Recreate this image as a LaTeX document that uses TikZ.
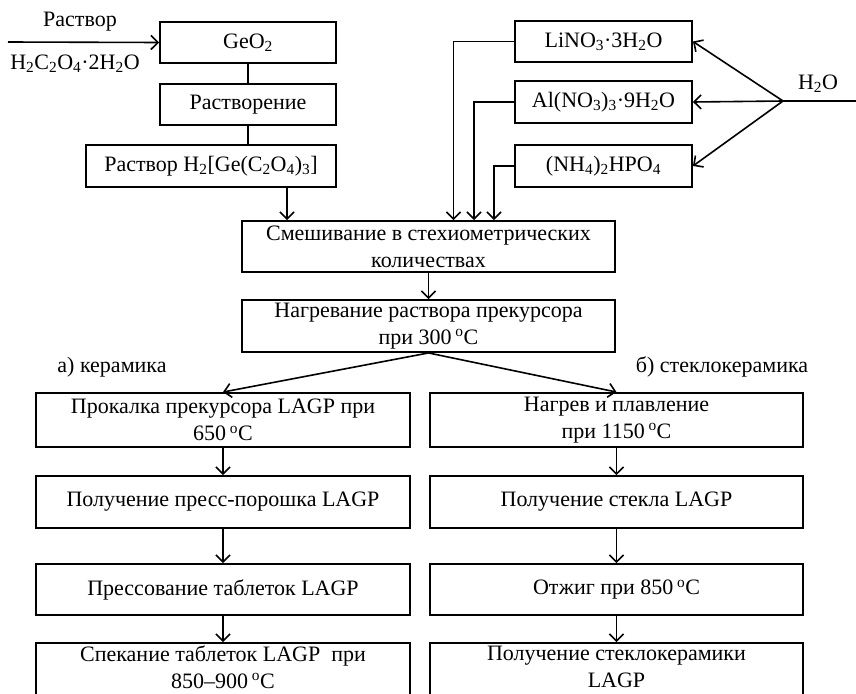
\documentclass[tikz,border=0pt]{standalone}
\usepackage{fontspec}
\setmainfont{Liberation Serif}
\usetikzlibrary{arrows.meta}
\newcommand{\lo}[1]{\textsubscript{#1}}
\newcommand{\degC}{\,\textsuperscript{o}C}
\tikzset{
  box/.style={draw,line width=1.9pt,inner sep=0pt,align=center,
    font=\fontsize{22}{27}\selectfont},
  lbl/.style={inner sep=0pt,font=\fontsize{22}{27}\selectfont},
  arr/.style={line width=1.6pt,-{Straight Barb[length=7pt,width=14pt]}},
  ln/.style={line width=1.6pt}
}
\begin{document}
\begin{tikzpicture}[x=1pt,y=-1pt]
      \useasboundingbox (0,0) rectangle (856,693);
      \clip (0,0) rectangle (856,693);
      % top left: germanium branch
      \node[box,minimum width=176pt,minimum height=41pt] (geo) at (248,42.5) {GeO\lo{2}};
      \node[box,minimum width=176pt,minimum height=41pt] (rastvorenie) at (248,104.5) {Растворение};
      \node[box,minimum width=250pt,minimum height=42pt] (rastvor) at (211,166) {Раствор H\lo{2}[Ge(C\lo{2}O\lo{4})\lo{3}]};
      \coordinate (inL) at (8,42);
      \node[lbl] (inTop) at (80,22) {Раствор};
      \node[lbl] (inBot) at (75,64) {H\lo{2}C\lo{2}O\lo{4}·2H\lo{2}O};
      \draw[arr] (inL) -- (geo.west);
      \draw[ln] (geo) -- (rastvorenie);
      \draw[ln] (rastvorenie) -- (rastvorenie |- rastvor.north);
      % top right: salts and water
      \node[box,minimum width=177pt,minimum height=41pt] (lino) at (603.5,41.5) {LiNO\lo{3}·3H\lo{2}O};
      \node[box,minimum width=177pt,minimum height=42pt] (alno) at (603.5,102) {Al(NO\lo{3})\lo{3}·9H\lo{2}O};
      \node[box,minimum width=177pt,minimum height=42pt] (nhpo) at (603.5,166) {(NH\lo{4})\lo{2}HPO\lo{4}};
      \coordinate (water) at (783,101);
      \coordinate (waterR) at (856,101);
      \node[lbl] (waterLbl) at (818,84) {H\lo{2}O};
      \draw[ln] (waterR) -- (water);
      \draw[arr] (water) -- (lino.east);
      \draw[arr] (water) -- (alno.east);
      \draw[arr] (water) -- (nhpo.east);
      % mixing and heating
      \node[box,minimum width=373pt,minimum height=51pt] (mix) at (428.5,246.5) {Смешивание в стехиометрических\\количествах};
      \node[box,minimum width=373pt,minimum height=52pt] (heat) at (428.5,326) {Нагревание раствора прекурсора\\при 300\degC};
      \draw[arr] ([xshift=76pt]rastvor.south) -- ([xshift=76pt]rastvor.south |- mix.north);
      \draw[arr] (lino.west) -| ([xshift=25pt]mix.north);
      \draw[arr] (alno.west) -| ([xshift=45.5pt]mix.north);
      \draw[arr] (nhpo.west) -| ([xshift=65.5pt]mix.north);
      \draw[arr] (mix) -- (heat);
      % two routes
      \node[lbl] (routeA) at (112,367) {а) керамика};
      \node[lbl] (routeB) at (722,367) {б) стеклокерамика};
      \node[box,minimum width=374pt,minimum height=54pt] (a1) at (223,420) {Прокалка прекурсора LAGP при\\650\degC};
      \node[box,minimum width=374pt,minimum height=52pt] (a2) at (223,502) {Получение пресс-порошка LAGP};
      \node[box,minimum width=374pt,minimum height=51pt] (a3) at (223,589.5) {Прессование таблеток LAGP};
      \node[box,minimum width=374pt,minimum height=56pt,text depth=8pt] (a4) at (223,671) {Спекание таблеток LAGP\ \ при\\850–900\degC};
      \node[box,minimum width=373pt,minimum height=54pt] (b1) at (616.5,420) {Нагрев и плавление\\при 1150\degC};
      \node[box,minimum width=373pt,minimum height=52pt] (b2) at (616.5,502) {Получение стекла LAGP};
      \node[box,minimum width=373pt,minimum height=51pt] (b3) at (616.5,589.5) {Отжиг при 850\degC};
      \node[box,minimum width=373pt,minimum height=56pt,text depth=8pt] (b4) at (616.5,671) {Получение стеклокерамики\\LAGP};
      \draw[arr] (heat.south) -- (a1.north);
      \draw[arr] (heat.south) -- (b1.north);
      \draw[arr] (a1) -- (a2);
      \draw[arr] (a2) -- (a3);
      \draw[arr] (a3) -- (a4);
      \draw[arr] (b1) -- (b2);
      \draw[arr] (b2) -- (b3);
      \draw[arr] (b3) -- (b4);
\end{tikzpicture}
\end{document}
